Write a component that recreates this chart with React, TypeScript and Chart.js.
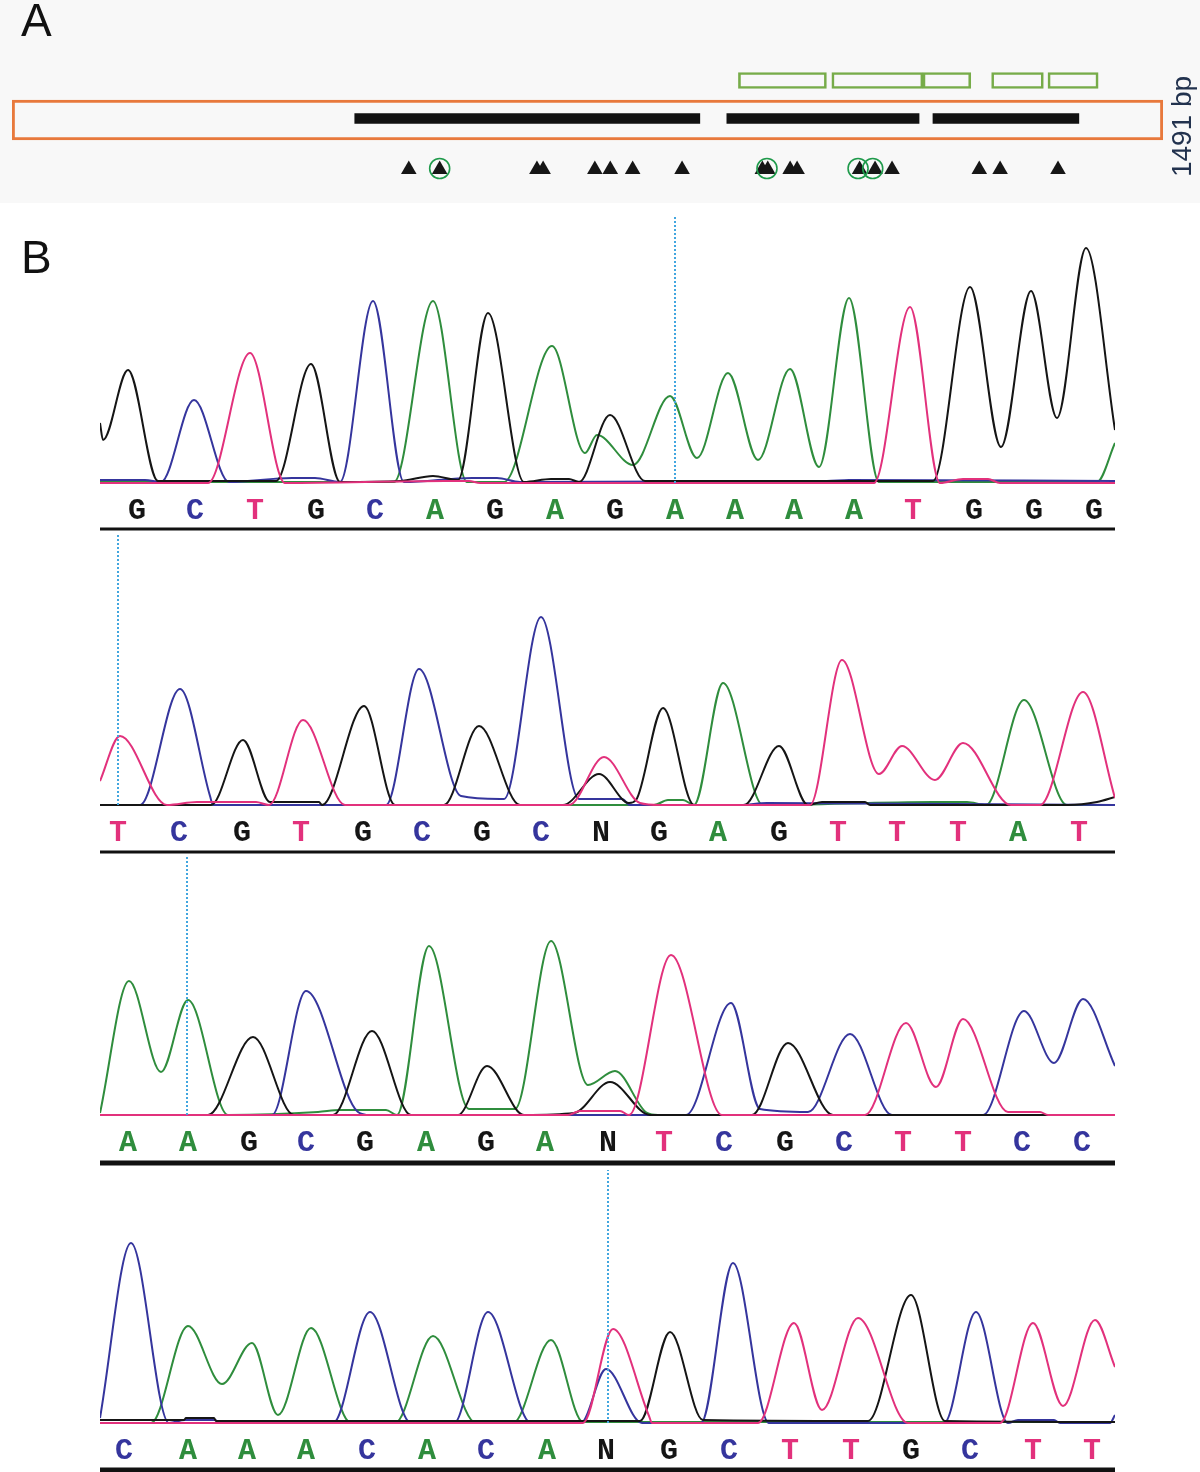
import React, { useEffect, useRef } from "react";
import { Chart, registerables } from "chart.js";

Chart.register(...registerables);

// ---------------- Panel A data (positions in bp) ----------------
const GENE_LENGTH = 1491;
const DOMAIN_SPANS: number[][] = [[444, 891], [926, 1175], [1193, 1382]];
const AMPLICON_SPANS: number[][] = [[941, 1055], [1062, 1180], [1180, 1242], [1269, 1336], [1342, 1407]];
const VARIANT_SITES = [514, 554, 680, 688, 755, 775, 804, 868, 972, 979, 1008, 1017, 1098, 1118, 1140, 1253, 1280, 1355];
const CIRCLED_SITES = [554, 978, 1096, 1115];

// ---------------- Panel B data (scan position, signal) ----------------
type Pt = [number, number];
const SCAN_MAX = 1015;

// Row 1
const R1_BASES = ["G", "C", "T", "G", "C", "A", "G", "A", "G", "A", "A", "A", "A", "T", "G", "G", "G"];
const R1_POS = [37, 95, 155, 216, 275, 335, 395, 455, 515, 575, 635, 694, 754, 813, 874, 934, 994];
const R1_MARK = 575;
const R1_G: Pt[] = [[0, 60], [3, 43], [28, 113], [58, 2], [176, 2], [211, 119], [240, 1], [300, 2], [333, 7], [358, 3], [388, 170], [424, 1], [451, 4], [469, 4], [479, 1], [510, 68], [545, 2], [833, 2], [870, 196], [901, 36], [931, 192], [957, 65], [986, 235], [1015, 53]];
const R1_C: Pt[] = [[0, 3], [45, 3], [61, 1], [94, 83], [129, 1], [192, 5], [215, 5], [240, 1], [273, 182], [304, 1], [372, 5], [397, 5], [420, 1], [727, 2], [749, 3], [1015, 2]];
const R1_T: Pt[] = [[0, 0], [108, 0], [150, 130], [185, 0], [345, 2], [369, 2], [380, 0], [774, 0], [810, 176], [840, 0], [863, 4], [888, 4], [900, 0], [1015, 0]];
const R1_A: Pt[] = [[0, 1], [294, 1], [333, 182], [367, 1], [404, 1], [452, 137], [485, 30], [497, 48], [533, 18], [570, 87], [597, 25], [628, 110], [658, 23], [690, 114], [719, 16], [749, 185], [779, 1], [997, 1], [1015, 40]];

// Row 2
const R2_BASES = ["T", "C", "G", "T", "G", "C", "G", "C", "N", "G", "A", "G", "T", "T", "T", "A", "T"];
const R2_POS = [18, 79, 142, 201, 263, 322, 382, 441, 501, 559, 618, 679, 738, 797, 858, 918, 979];
const R2_MARK = 18;
const R2_T: Pt[] = [[0, 24], [20, 69], [67, 0], [97, 3], [156, 3], [169, 0], [203, 85], [245, 0], [469, 0], [504, 48], [540, 2], [560, 0], [710, 0], [742, 145], [779, 31], [802, 59], [835, 25], [863, 62], [911, 0], [940, 0], [983, 113], [1015, 7]];
const R2_C: Pt[] = [[0, 0], [40, 0], [80, 116], [110, 9], [113, 0], [286, 0], [319, 136], [361, 9], [400, 6], [404, 6], [441, 188], [479, 6], [522, 6], [530, 0], [640, 0], [667, 2], [1015, 0]];
const R2_G: Pt[] = [[0, 0], [111, 0], [143, 65], [170, 3], [219, 3], [222, 0], [264, 99], [295, 0], [344, 0], [379, 79], [420, 0], [463, 0], [499, 31], [529, 2], [536, 5], [563, 97], [594, 0], [644, 0], [679, 59], [708, 0], [722, 3], [765, 3], [770, 0], [968, 0], [997, 3], [1015, 8]];
const R2_A: Pt[] = [[0, 0], [554, 0], [568, 5], [583, 5], [594, 0], [623, 122], [663, 0], [833, 3], [867, 3], [886, 0], [924, 105], [967, 0], [1015, 0]];

// Row 3
const R3_BASES = ["A", "A", "G", "C", "G", "A", "G", "A", "N", "T", "C", "G", "C", "T", "T", "C", "C"];
const R3_POS = [28, 88, 149, 206, 265, 326, 386, 445, 508, 564, 624, 685, 744, 803, 863, 922, 982];
const R3_MARK = 87;
const R3_A: Pt[] = [[0, 2], [29, 134], [61, 43], [88, 115], [128, 0], [218, 3], [240, 5], [286, 5], [297, 0], [329, 169], [369, 6], [415, 6], [451, 174], [488, 30], [515, 44], [547, 2], [558, 0], [1015, 0]];
const R3_G: Pt[] = [[0, 0], [108, 0], [153, 78], [194, 0], [233, 0], [272, 84], [311, 0], [358, 0], [387, 49], [424, 0], [474, 2], [510, 33], [550, 0], [652, 0], [688, 72], [733, 0], [1015, 0]];
const R3_C: Pt[] = [[0, 0], [172, 0], [206, 124], [258, 3], [270, 0], [586, 0], [631, 112], [660, 6], [708, 3], [750, 81], [792, 0], [883, 0], [924, 104], [954, 52], [983, 116], [1015, 49]];
const R3_T: Pt[] = [[0, 0], [468, 0], [480, 4], [520, 4], [529, 0], [571, 160], [622, 0], [765, 0], [806, 92], [836, 28], [863, 96], [908, 3], [940, 3], [948, 0], [1015, 0]];

// Row 4
const R4_BASES = ["C", "A", "A", "A", "C", "A", "C", "A", "N", "G", "C", "T", "T", "G", "C", "T", "T"];
const R4_POS = [24, 88, 147, 206, 267, 327, 386, 447, 506, 569, 629, 690, 751, 811, 870, 933, 992];
const R4_MARK = 508;
const R4_C: Pt[] = [[0, 5], [31, 180], [69, 0], [85, 3], [115, 3], [120, 0], [233, 0], [270, 111], [311, 0], [354, 0], [388, 111], [431, 0], [481, 0], [506, 54], [542, 0], [601, 0], [633, 160], [669, 0], [844, 0], [876, 111], [908, 0], [918, 3], [954, 3], [960, 0], [1010, 0], [1015, 8]];
const R4_A: Pt[] = [[0, 0], [51, 0], [88, 97], [122, 39], [152, 80], [178, 8], [211, 95], [251, 0], [295, 0], [333, 87], [376, 0], [413, 0], [451, 83], [483, 1], [1015, 1]];
const R4_G: Pt[] = [[0, 3], [84, 3], [86, 5], [114, 5], [116, 2], [540, 2], [570, 91], [603, 3], [768, 2], [811, 128], [845, 2], [1015, 1]];
const R4_T: Pt[] = [[0, 0], [483, 0], [513, 94], [549, 7], [552, 0], [658, 0], [694, 100], [722, 13], [758, 105], [808, 0], [900, 0], [933, 100], [963, 17], [995, 103], [1015, 56]];

// ---------------- styles ----------------
const BASE_COLORS: Record<string, string> = {
  A: "#2f8d3d",
  C: "#35359d",
  G: "#151515",
  T: "#e2317c",
  N: "#151515",
};
const SANS = '"Liberation Sans", Arial, sans-serif';
const MONO = '"Liberation Mono", "DejaVu Sans Mono", monospace';

type TextItem = { text: string; x: number; y: number; font: string; color: string; rotate?: number; align?: CanvasTextAlign; baseline?: CanvasTextBaseline };

function textPlugin(items: TextItem[]) {
  return {
    id: "extraText",
    afterDraw(chart: any) {
      const ctx: CanvasRenderingContext2D = chart.ctx;
      for (const it of items) {
        ctx.save();
        ctx.translate(it.x, it.y);
        if (it.rotate) ctx.rotate(it.rotate);
        ctx.font = it.font;
        ctx.fillStyle = it.color;
        ctx.textAlign = it.align || "left";
        ctx.textBaseline = it.baseline || "alphabetic";
        ctx.fillText(it.text, 0, 0);
        ctx.restore();
      }
    },
  };
}

function underlinePlugin(offset: number, width: number) {
  return {
    id: "underline",
    afterDraw(chart: any) {
      const { ctx, chartArea } = chart;
      ctx.save();
      ctx.fillStyle = "#111111";
      ctx.fillRect(chartArea.left, chartArea.bottom + offset - width / 2, chartArea.right - chartArea.left, width);
      ctx.restore();
    },
  };
}

function panelAConfig(): any {
  const lane = { amplicon: 80.5, gene: 120, domain: 118.5, site: 169.5 };
  return {
    type: "bar",
    data: {
      datasets: [
        {
          type: "scatter",
          data: CIRCLED_SITES.map((x) => ({ x, y: lane.site - 1 })),
          pointStyle: "circle",
          pointRadius: 10,
          pointBackgroundColor: "rgba(0,0,0,0)",
          pointBorderColor: "#1f9a4b",
          pointBorderWidth: 1.6,
        },
        {
          type: "scatter",
          data: VARIANT_SITES.map((x) => ({ x, y: lane.site })),
          pointStyle: "triangle",
          pointRadius: 9,
          pointBackgroundColor: "#161616",
          pointBorderWidth: 0,
        },
        {
          type: "bar",
          indexAxis: "y",
          grouped: false,
          data: [{ x: [0, GENE_LENGTH], y: lane.gene }],
          backgroundColor: "rgba(0,0,0,0)",
          borderColor: "#e8793c",
          borderWidth: 2.5,
          borderSkipped: false,
          barThickness: 40,
        },
        {
          type: "bar",
          indexAxis: "y",
          grouped: false,
          data: DOMAIN_SPANS.map((s) => ({ x: s, y: lane.domain })),
          backgroundColor: "#111111",
          borderWidth: 0,
          barThickness: 10,
        },
        {
          type: "bar",
          indexAxis: "y",
          grouped: false,
          data: AMPLICON_SPANS.map((s) => ({ x: s, y: lane.amplicon })),
          backgroundColor: "rgba(0,0,0,0)",
          borderColor: "#77ac49",
          borderWidth: 2,
          borderSkipped: false,
          barThickness: 16,
        },
      ],
    },
    options: {
      animation: false,
      responsive: false,
      devicePixelRatio: 1,
      events: [],
      layout: { autoPadding: false, padding: { left: 12, right: 37, top: 0, bottom: 0 } },
      plugins: { legend: { display: false }, tooltip: { enabled: false } },
      scales: {
        x: { type: "linear", display: false, min: 0, max: GENE_LENGTH, offset: false },
        y: { type: "linear", display: false, min: 0, max: 205, reverse: true, offset: false },
      },
    },
    plugins: [
      textPlugin([
        { text: "A", x: 21, y: 36, font: `46px ${SANS}`, color: "#111111" },
        { text: `${GENE_LENGTH} bp`, x: 1183, y: 126.5, font: `28px ${SANS}`, color: "#22324e", rotate: -Math.PI / 2, align: "center", baseline: "middle" },
      ]),
    ],
  };
}

type Row = {
  top: number;
  yMax: number;
  rule: number;
  ruleWidth: number;
  bases: string[];
  pos: number[];
  mark: number;
  A: Pt[];
  C: Pt[];
  G: Pt[];
  T: Pt[];
  label?: string;
};

const ROWS: Row[] = [
  { top: 215, yMax: 268, rule: 43, ruleWidth: 3, bases: R1_BASES, pos: R1_POS, mark: R1_MARK, A: R1_A, C: R1_C, G: R1_G, T: R1_T, label: "B" },
  { top: 535, yMax: 270, rule: 44, ruleWidth: 3, bases: R2_BASES, pos: R2_POS, mark: R2_MARK, A: R2_A, C: R2_C, G: R2_G, T: R2_T },
  { top: 855, yMax: 260, rule: 45, ruleWidth: 5, bases: R3_BASES, pos: R3_POS, mark: R3_MARK, A: R3_A, C: R3_C, G: R3_G, T: R3_T },
  { top: 1170, yMax: 253, rule: 44, ruleWidth: 5, bases: R4_BASES, pos: R4_POS, mark: R4_MARK, A: R4_A, C: R4_C, G: R4_G, T: R4_T },
];

const Y_MIN = -3;
const AXIS_H = 50;

function trace(points: Pt[], color: string) {
  return {
    data: points.map(([x, y]) => ({ x, y })),
    borderColor: color,
    borderWidth: 2,
    pointRadius: 0,
    fill: false,
    cubicInterpolationMode: "monotone",
  };
}

function rowConfig(row: Row): any {
  const plugins: any[] = [underlinePlugin(row.rule, row.ruleWidth)];
  if (row.label) {
    plugins.push(textPlugin([{ text: row.label, x: 21, y: 272.5 - row.top, font: `46px ${SANS}`, color: "#111111" }]));
  }
  return {
    type: "line",
    data: {
      datasets: [
        {
          data: [{ x: row.mark, y: 0 }, { x: row.mark, y: row.yMax }],
          borderColor: "#42a6df",
          borderWidth: 2,
          borderDash: [2, 2],
          pointRadius: 0,
          clip: false,
        },
        trace(row.T, BASE_COLORS.T),
        trace(row.G, BASE_COLORS.G),
        trace(row.C, BASE_COLORS.C),
        trace(row.A, BASE_COLORS.A),
      ],
    },
    options: {
      animation: false,
      responsive: false,
      devicePixelRatio: 1,
      events: [],
      layout: { autoPadding: false, padding: { left: 100, right: 85, top: 0, bottom: 0 } },
      plugins: { legend: { display: false }, tooltip: { enabled: false } },
      scales: {
        x: {
          type: "linear",
          min: 0,
          max: SCAN_MAX,
          offset: false,
          grid: { display: false, drawTicks: false },
          border: { display: false },
          afterBuildTicks: (s: any) => {
            s.ticks = row.pos.map((v) => ({ value: v }));
          },
          afterFit: (s: any) => {
            s.height = AXIS_H;
          },
          ticks: {
            autoSkip: false,
            maxRotation: 0,
            minRotation: 0,
            padding: 7,
            font: { family: MONO, size: 30, weight: "bold" },
            color: (c: any) => BASE_COLORS[row.bases[c.index]] || "#151515",
            callback: (_v: any, i: number) => row.bases[i],
          },
        },
        y: { type: "linear", display: false, min: Y_MIN, max: row.yMax },
      },
    },
    plugins,
  };
}

function ChartCanvas({ top, height, build }: { top: number; height: number; build: () => any }) {
  const ref = useRef<HTMLCanvasElement | null>(null);
  useEffect(() => {
    if (!ref.current) return;
    const chart = new Chart(ref.current, build());
    return () => chart.destroy();
  }, []);
  return (
    <canvas
      ref={ref}
      width={1200}
      height={height}
      style={{ position: "absolute", left: 0, top, width: 1200, height, display: "block" }}
    />
  );
}

export default function App() {
  return (
    <div style={{ position: "absolute", left: 0, top: 0, width: 1200, height: 1472, background: "#ffffff", overflow: "hidden" }}>
      <div style={{ position: "absolute", left: 0, top: 0, width: 1200, height: 203, background: "#f8f8f8" }} />
      <ChartCanvas top={0} height={205} build={panelAConfig} />
      {ROWS.map((row, i) => (
        <ChartCanvas key={i} top={row.top} height={row.yMax - Y_MIN + AXIS_H} build={() => rowConfig(row)} />
      ))}
    </div>
  );
}
